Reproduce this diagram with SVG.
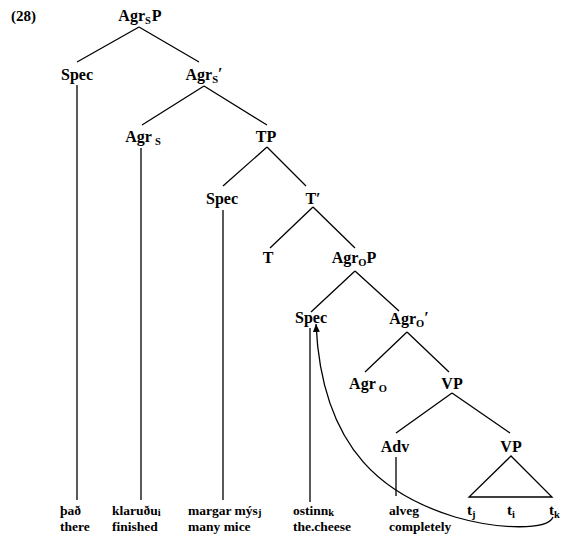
<svg xmlns="http://www.w3.org/2000/svg" width="565" height="536" viewBox="0 0 565 536">
<style>
.n{font-family:"Liberation Serif","Times New Roman",serif;font-weight:bold;font-size:16px;fill:#000;text-anchor:middle}
.w{font-family:"Liberation Serif","Times New Roman",serif;font-weight:bold;font-size:13.5px;fill:#000}
.t{font-size:15px}
.s{font-size:10.5px}
.e{stroke:#000;stroke-width:1.3;fill:none}
</style>
<defs>
<marker id="ah" markerUnits="userSpaceOnUse" markerWidth="9" markerHeight="8" refX="8" refY="3.5" orient="auto">
<path d="M0,0 L8,3.5 L0,7 z" fill="#000"/>
</marker>
</defs>
<rect width="565" height="536" fill="#fff"/>
<text class="w t" x="11" y="21">(28)</text>

<g id="connectors">
<path class="e" d="M139,27 L77,62 M139,27 L199,62"/>
<path class="e" d="M77,85 L77,500"/>
<path class="e" d="M204,86 L142,125 M204,86 L267,125"/>
<path class="e" d="M141,148 L141,500"/>
<path class="e" d="M267,147 L223,186 M267,147 L306,186"/>
<path class="e" d="M223,210 L223,500"/>
<path class="e" d="M313,207 L270,248 M313,207 L355,248"/>
<path class="e" d="M355,271 L311,312 M355,271 L399,311"/>
<path class="e" d="M310,328 L310,502"/>
<path class="e" d="M407,332 L365,372 M407,332 L449,372"/>
<path class="e" d="M452,393 L396,433 M452,393 L510,433"/>
<path class="e" d="M396,457 L396,496"/>
<path class="e" d="M511,456 L469,497 L552,497 Z"/>
<path class="e" d="M553,517 C548,530 500,530 455,517 C390,497 322,455 316,324" marker-end="url(#ah)"/>
</g>

<g id="AgrSP"><text class="n" x="140" y="21">Agr<tspan class="s" dy="3">S</tspan><tspan dy="-3" dx="1">P</tspan></text></g>
<g id="Spec1"><text class="n" x="77" y="80">Spec</text></g>
<g id="AgrSbar"><text class="n" x="204" y="80">Agr<tspan class="s" dy="3">S</tspan><tspan dy="-4">′</tspan></text></g>
<g id="AgrS"><text class="n" x="143" y="142">Agr<tspan class="s" dy="3" dx="3">S</tspan></text></g>
<g id="TP"><text class="n" x="266" y="142">TP</text></g>
<g id="Spec2"><text class="n" x="222" y="204">Spec</text></g>
<g id="Tbar"><text class="n" x="313" y="204">T′</text></g>
<g id="T"><text class="n" x="268" y="263">T</text></g>
<g id="AgrOP"><text class="n" x="354" y="263">Agr<tspan class="s" dy="3">O</tspan><tspan dy="-3">P</tspan></text></g>
<g id="Spec3"><text class="n" x="311" y="323">Spec</text></g>
<g id="AgrObar"><text class="n" x="409" y="324">Agr<tspan class="s" dy="3">O</tspan><tspan dy="-4">′</tspan></text></g>
<g id="AgrO"><text class="n" x="368" y="389">Agr<tspan class="s" dy="3" dx="3">O</tspan></text></g>
<g id="VP1"><text class="n" x="452" y="389">VP</text></g>
<g id="Adv"><text class="n" x="395" y="452">Adv</text></g>
<g id="VP2"><text class="n" x="511" y="452">VP</text></g>

<g id="traces">
<text class="w t" x="467" y="515">t<tspan class="s" dy="3">j</tspan></text>
<text class="w t" x="507" y="515">t<tspan class="s" dy="3">i</tspan></text>
<text class="w t" x="549" y="515">t<tspan class="s" dy="3">k</tspan></text>
</g>

<g id="words">
<text class="w" x="60" y="515">það</text>
<text class="w" x="60" y="531">there</text>
<text class="w" x="112" y="515">klaruðu<tspan class="s" dy="1">i</tspan></text>
<text class="w" x="112" y="531">finished</text>
<text class="w" x="188" y="515">margar mýs<tspan class="s" dy="1">j</tspan></text>
<text class="w" x="188" y="531">many mice</text>
<text class="w" x="293" y="515">ostinn<tspan class="s" dy="1">k</tspan></text>
<text class="w" x="293" y="531">the.cheese</text>
<text class="w" x="389" y="515">alveg</text>
<text class="w" x="389" y="531">completely</text>
</g>
</svg>
